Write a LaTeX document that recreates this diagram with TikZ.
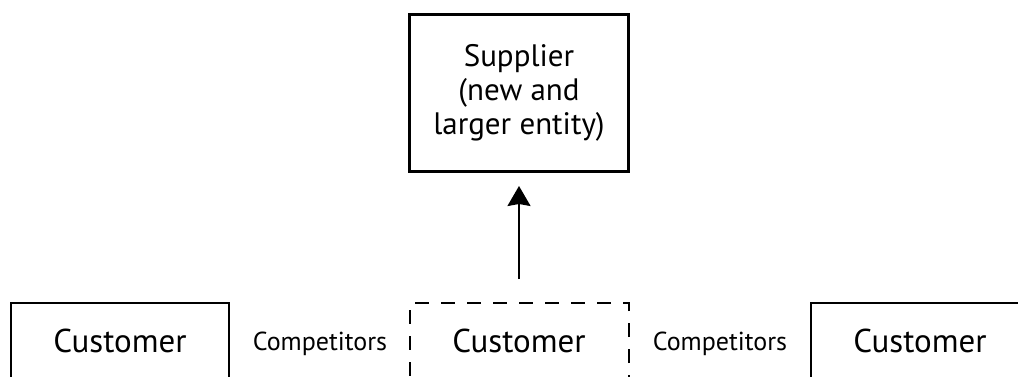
\documentclass[tikz,border=0pt]{standalone}
\usepackage{fontspec}
\setmainfont{PT Sans}
\usetikzlibrary{arrows.meta}

\begin{document}
\begin{tikzpicture}[x=1pt,y=1pt,
  party/.style={draw,line width=2pt,minimum width=218pt,minimum height=75pt,
    font=\fontsize{33}{38}\selectfont},
  rival/.style={anchor=base,font=\fontsize{26}{30}\selectfont}]
  \useasboundingbox (0,0) rectangle (1018,376);
  \clip (0,0) rectangle (1018,376);
  % merged supplier on top
  \node[draw,line width=3pt,minimum width=219pt,minimum height=157pt,align=center,
    font=\fontsize{31}{34}\selectfont] (supplier) at (519,283)
    {Supplier\\(new and\\larger entity)};
  % customers along the bottom edge
  \node[party] (custleft) at (120,35.5) {Customer};
  \node[party,dash pattern=on 14pt off 12pt,minimum width=219pt] (custmid) at (519,35.5) {Customer};
  \node[party] (custright) at (920,35.5) {Customer};
  \node[rival] (rivleft) at (320,26) {Competitors};
  \node[rival] (rivright) at (720,26) {Competitors};
  \draw[line width=2pt,-{Stealth[length=20pt,width=23pt,inset=2pt]},
    shorten <=23pt,shorten >=13pt] (custmid) -- (supplier);
\end{tikzpicture}
\end{document}
